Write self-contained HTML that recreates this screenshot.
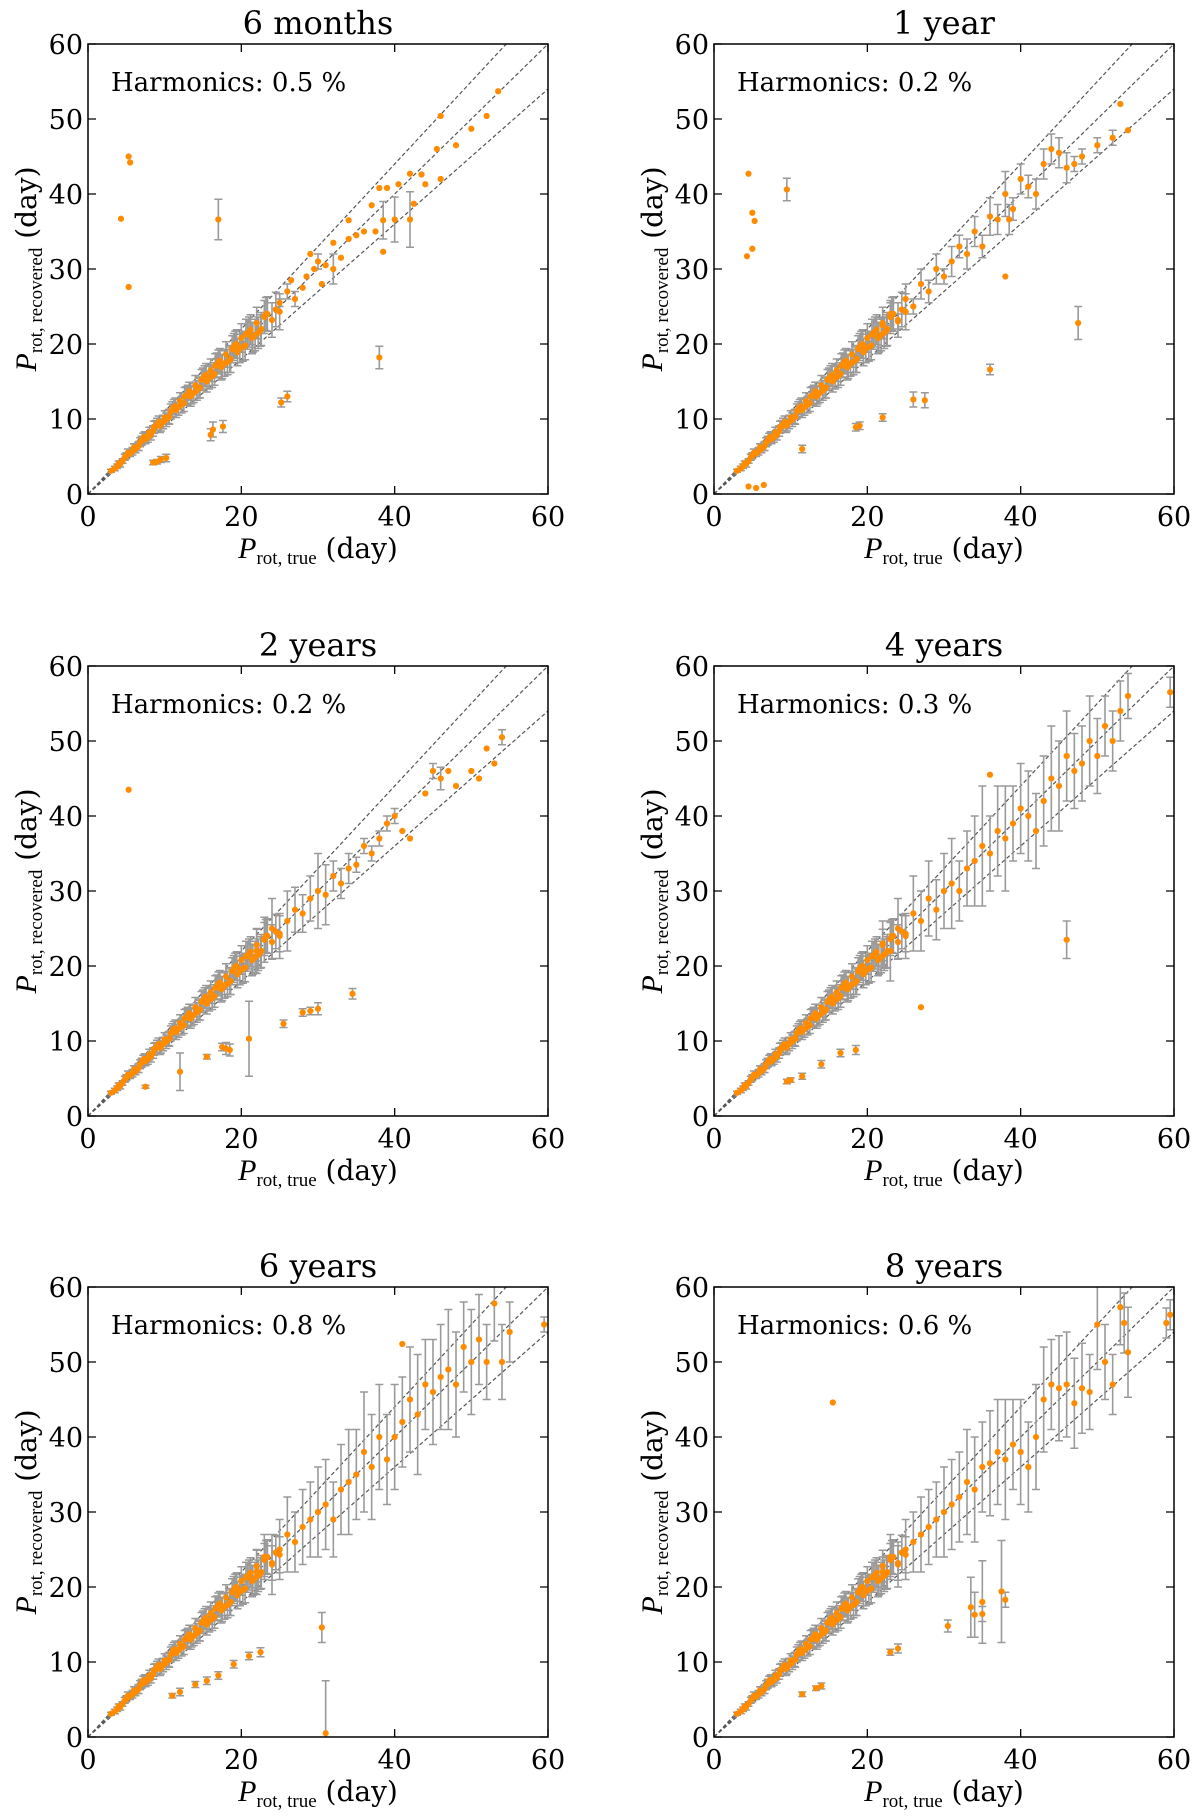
<!DOCTYPE html>
<html><head><meta charset="utf-8"><style>
html,body{margin:0;padding:0;background:#fff}
svg{display:block}
text{font-family:"DejaVu Serif","Liberation Serif",serif;fill:#000}
</style></head>
<body>
<svg id="fig" width="1200" height="1818" viewBox="0 0 1200 1818" xmlns="http://www.w3.org/2000/svg"></svg>
<script>
// ----- data -----
const panelTitles = ["6 months","1 year","2 years","4 years","6 years","8 years"];
const harmonicLabels = ["0.5","0.2","0.2","0.3","0.8","0.6"];
const xTicks = [0,20,40,60];
const yTicks = [0,10,20,30,40,50,60];
const lineSlopes = [0.9,1.0,1.1];

const coreX = [3,3.5,4,4.5,5,5.5,6,6.5,7,7.5,8,8.5,9,9.5,10,10.5,11,11.5,12,12.5,13,13.5,14,14.5,15,15.5,16,16.5,17,17.5,18,18.5,19,19.5,20,20.5,21,21.5,22,22.5,23,24,3.8,4.8,5.8,6.8,7.8,8.8,9.8,10.8,11.8,12.8,13.8,14.8,15.8,16.8,17.8,18.8,19.8,20.8,21.8];
const coreY = [3.1,3.4,4.1,4.4,5.1,5.4,6.2,6.3,7.1,7.3,8.2,8.4,9.3,9.2,10.2,10.3,11.3,11.2,12.4,12.1,13.3,13.2,14.5,14.1,15.4,15.0,16.5,16.0,17.6,17.0,18.6,17.9,19.6,18.9,20.8,19.8,21.6,20.9,22.8,21.8,23.6,23.2,3.7,4.9,5.7,6.9,7.6,9.0,9.6,11.0,11.6,13.1,13.5,15.2,15.5,17.2,17.4,19.3,19.4,21.3,21.2];
const coreE = [0.2,0.3,0.3,0.3,0.4,0.4,0.5,0.5,0.6,0.6,0.7,0.7,0.8,0.8,0.9,0.9,1.0,1.0,1.1,1.1,1.2,1.2,1.3,1.3,1.4,1.4,1.5,1.5,1.6,1.6,1.7,1.7,1.8,1.8,1.9,1.9,2.0,2.0,2.1,2.1,2.2,2.3,0.3,0.4,0.5,0.6,0.7,0.8,0.9,1.0,1.1,1.2,1.3,1.4,1.5,1.6,1.7,1.8,1.9,2.0,2.1];
const core2X = [4.2,5.2,6.2,7.2,8.2,9.2,10.2,11.2,12.2,13.2,14.2,15.2,16.2,17.2,18.2,19.2,20.2,21.2,22.2,23.2,6.6,8.6,10.6,12.6,14.6,16.6,18.6,20.6,22.6,24.5,7.4,9.4,11.4,13.4,15.4,17.4,19.4,21.4,23.4,25];
const core2Y = [4.0,5.5,6.0,7.5,7.9,9.6,9.9,11.6,11.9,13.7,13.8,15.7,15.7,17.8,17.6,19.9,19.6,21.9,21.5,24.0,6.4,8.9,10.3,13.0,14.2,17.1,18.0,21.3,22.0,24.6,7.6,9.1,11.7,13.0,15.9,16.9,20.0,20.8,24.0,24.3];
const core2E = [0.4,0.5,0.5,0.6,0.7,0.8,0.9,1.0,1.1,1.2,1.3,1.4,1.5,1.6,1.7,1.8,1.9,2.0,2.1,2.2,0.6,0.8,1.0,1.2,1.4,1.6,1.8,2.0,2.2,2.3,0.7,0.9,1.1,1.3,1.5,1.7,1.9,2.1,2.3,2.4];

const p1X = [25,26,26.5,27,28,28.5,29,29.5,30,30.5,31,32,32,33,34,34,35,36,37,37.5,38,38.5,38.5,39,40,40.5,42,42,42.5,44,45.5,46,46,48,50,52,53.5,43.5,5.3,5.5,4.3,5.3,17,38,16,16.3,17.6,25.2,26,8.5,9,9.5,10.2];
const p1Y = [25.5,27,28.5,26,27.5,29,32,30,31,28,30.5,30,33.5,31.5,36.5,34,34.5,35,38.5,35,40.8,36.5,32.3,40.8,36.6,41.3,42.7,36.6,38.7,41.3,46,50.4,42,46.5,48.7,50.4,53.7,42.6,45,44.2,36.7,27.6,36.6,18.2,7.9,8.6,9,12.2,13,4.2,4.3,4.6,4.8];
const p1E = [0.5,1,0,1,0,0,0,0,1,0,0,2,0,0,0,0,0,0,0,0,0,2.5,0,0,3,0,0,3.7,0,0,0,0,0,0,0,0,0,0,0,0,0,0,2.7,1.5,0.8,1,0.8,0.6,0.7,0.3,0.3,0.4,0.5];

const p2X = [22,23,24,25,26,27,28,29,30,31,32,33,34,35,36,37,38,38.5,39,40,41,42,43,44,45,46,47,48,50,52,53,54,4.3,4.5,5,5.3,5,9.5,4.5,5.5,6.5,11.5,18.5,19,22,26,27.5,36,47.5,38];
const p2Y = [22.5,24,23,26,25,28,27,30,29,31,33,32,35,33,37,36.6,40,36.6,38,42,41,40,44,46,45.5,43.5,44,45,46.5,47.5,52,48.5,31.7,42.7,37.5,36.4,32.7,40.6,1,0.8,1.2,6,8.9,9.1,10.2,12.6,12.5,16.6,22.8,29];
const p2E = [1,1.5,1,2,1,2,1.5,2,1,2,1.5,2,2,1.5,2.5,2,3,2,1.5,2,1.5,2,2,2,2,2,1,1,1,1,0,0,0,0,0,0,0,1.5,0,0,0,0.5,0.5,0.5,0.5,1,1,0.7,2.2,0];

const p3X = [22,23,24,25,26,27,28,29,30,31,32,33,34,35,36,37,38,39,40,41,42,44,45,46,47,48,50,51,52,53,54,5.3,7.5,12,15.5,17.5,18,18.5,21,25.5,28,29,30,34.5];
const p3Y = [22,23.5,25,24,26,27.5,27,29,30,29.5,32,31,33,33.5,36,35,37,39,40,38,37,43,46,45,46,44,46,45,49,47,50.5,43.5,3.9,5.9,7.9,9.2,9,8.8,10.3,12.3,13.8,14,14.3,16.3];
const p3E = [3,3,4,3,4,3,2.5,3,5,4,2,2,2,1,1,1,1,1,1,0,0,0,1,1.5,0,0,0,0,0,0,1,0,0.2,2.5,0.3,0.5,0.8,0.8,5,0.5,0.5,0.5,0.8,0.7];

const p4X = [22,23,24,25,26,27,28,29,30,31,32,33,34,35,36,37,38,39,40,41,42,43,44,45,46,47,48,49,50,51,52,53,54,59.5,9.5,10,11.5,14,16.5,18.5,46,27,36];
const p4Y = [23,22,25,24,27,26,29,27.5,30,31,30,33,34,36,35,38,37,39,41,40,38,42,45,44,48,46,47,50,48,52,50,54,56,56.5,4.6,4.8,5.3,6.9,8.4,8.8,23.5,14.5,45.5];
const p4E = [3,4,4,3,5,4,5,4,5,6,4,5,6,8,5,6,7,5,6,6,5,6,7,6,6,5,5,6,5,4,4,4,3,2,0.3,0.3,0.4,0.5,0.5,0.6,2.5,0,0];

const p5X = [22,23,24,25,26,27,28,29,30,31,32,33,34,35,36,37,38,39,40,41,42,43,44,45,46,47,48,49,50,51,52,53,54,55,59.5,11,12,14,15.5,17,19,21,22.5,30.5,31,41];
const p5Y = [22,24,23,25,27,26,28,29,30,31,29,33,34,35,38,36,40,37,40,42,45,43,47,46,48,49,47,52,50,53,50,57.8,50,54,55,5.5,6,7,7.5,8.2,9.7,10.8,11.3,14.6,0.5,52.4];
const p5E = [3,3,4,4,5,4,5,5,6,6,5,6,7,6,8,7,7,6,7,6,7,8,6,7,7,8,7,6,7,6,5,5,5,4,1,0.3,0.5,0.4,0.5,0.5,0.5,0.5,0.6,2,7,0];

const p6X = [22,23,24,25,26,27,28,29,30,31,32,33,34,35,36,37,38,39,40,41,42,43,44,45,46,47,48,49,50,51,52,53,53.5,54,59,59.5,15.5,11.5,13.3,14,23,24,30.5,33.5,34,35,35,37.5,38];
const p6Y = [22,24,23,25,26,27,28,29,30,31,32,34,33,36,36.5,38,37,39,38,36,40,45,47,46.5,47,44.5,46.5,46,55,50,47,57.3,55.2,51.3,55.2,56.3,44.6,5.7,6.5,6.8,11.3,11.8,14.8,17.3,16.3,18,16.4,19.4,18.3];
const p6E = [2,3,3,4,4,5,5,5,6,6,6,7,7,6,7,7,8,6,7,6,7,7,6,7,7,6,6,5,6,5,4,5,4,6,2,2,0,0.3,0.3,0.4,0.4,0.6,0.8,4,3,5.5,1,6.8,1];

const panelX = [p1X,p2X,p3X,p4X,p5X,p6X];
const panelY = [p1Y,p2Y,p3Y,p4Y,p5Y,p6Y];
const panelE = [p1E,p2E,p3E,p4E,p5E,p6E];

// ----- layout -----
const NS = "http://www.w3.org/2000/svg";
const svg = document.getElementById('fig');
const colX = [88,714], rowY = [44,666,1287], W = 460, H = 450;
function mk(tag, attrs, parent){ const e=document.createElementNS(NS,tag); for(const k in attrs) e.setAttribute(k,attrs[k]); parent.appendChild(e); return e; }

function drawPanel(i){
  const x0 = colX[i%2], y0 = rowY[Math.floor(i/2)];
  const sx = v => x0 + v/60*W;
  const sy = v => y0 + H - v/60*H;
  const g = mk('g',{},svg);
  
  
  const clipId = 'clip'+i;
  const cp = mk('clipPath',{id:clipId},g);
  mk('rect',{x:x0,y:y0,width:W,height:H},cp);
  const plot = mk('g',{'clip-path':'url(#'+clipId+')'},g);
  lineSlopes.forEach(s=>{
    const l = mk('line',{x1:sx(0),y1:sy(0),x2:sx(60),y2:sy(60*s),stroke:'#555','stroke-width':1.2,'stroke-dasharray':'4,2.5'},plot);
    
    
  });
  const allX = coreX.concat(core2X, panelX[i]), allY = coreY.concat(core2Y, panelY[i]), allE = coreE.concat(core2E, panelE[i]);
  for(let k=0;k<allX.length;k++){
    const e = allE[k]; if(e<=0) continue;
    const cx = sx(allX[k]);
    const eb = mk('path',{d:`M${cx},${sy(allY[k]-e)}V${sy(allY[k]+e)}M${cx-4},${sy(allY[k]-e)}H${cx+4}M${cx-4},${sy(allY[k]+e)}H${cx+4}`,stroke:'#9a9a9a','stroke-width':1.6,fill:'none'},plot);
    
    
  }
  for(let k=0;k<allX.length;k++){
    const c = mk('circle',{cx:sx(allX[k]),cy:sy(allY[k]),r:3.1,fill:'#ff8c00'},plot);
    
    
  }
  const fr = mk('rect',{x:x0,y:y0,width:W,height:H,fill:'none',stroke:'#000','stroke-width':1.5},g);
  
  
  xTicks.forEach(t=>{
    const x = sx(t);
    mk('path',{d:`M${x},${y0+H}v-8M${x},${y0}v8`,stroke:'#000','stroke-width':1.3},g);
    const tl = mk('text',{x:x,y:y0+H+32,'font-size':27,'text-anchor':'middle'},g);
    tl.textContent = t;
    
    
  });
  yTicks.forEach(t=>{
    const y = sy(t);
    mk('path',{d:`M${x0},${y}h8M${x0+W},${y}h-8`,stroke:'#000','stroke-width':1.3},g);
    const tl = mk('text',{x:x0-5,y:y+10,'font-size':27,'text-anchor':'end'},g);
    tl.textContent = t;
    
    
  });
  const ti = mk('text',{x:x0+W/2,y:y0-10,'font-size':32,'text-anchor':'middle'},g);
  ti.textContent = panelTitles[i];
  
  
  const hm = mk('text',{x:x0+23,y:y0+47,'font-size':26},g);
  hm.textContent = 'Harmonics: ' + harmonicLabels[i] + ' %';
  
  
  const xl = mk('text',{x:x0+W/2,y:y0+H+64,'font-size':28,'text-anchor':'middle'},g);
  xl.innerHTML = '<tspan font-family="Liberation Serif" font-style="italic" font-size="30">P</tspan><tspan font-family="Liberation Serif" font-size="19" dy="6">rot, true</tspan><tspan dy="-6"> (day)</tspan>';
  
  
  const yl = mk('text',{x:0,y:0,'font-size':28,'text-anchor':'middle',transform:`translate(${x0-52},${y0+H/2}) rotate(-90)`},g);
  yl.innerHTML = '<tspan font-family="Liberation Serif" font-style="italic" font-size="30">P</tspan><tspan font-family="Liberation Serif" font-size="19" dy="6">rot, recovered</tspan><tspan dy="-6"> (day)</tspan>';
  
  
}
for(let i=0;i<6;i++) drawPanel(i);
</script>
</body></html>
